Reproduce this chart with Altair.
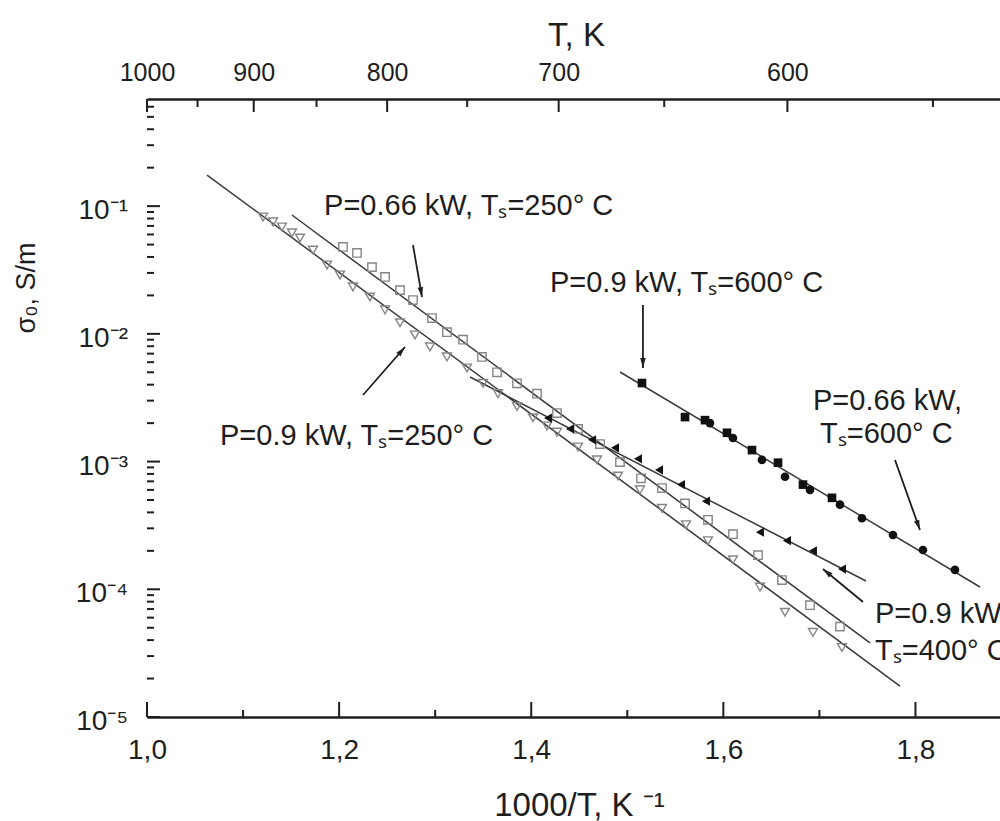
import math
import altair as alt
import pandas as pd

# ---------------- values ----------------
# P=0.9 kW, Ts=250 C  (open triangles)
tri_x = [1.1208, 1.1312, 1.1405, 1.1509, 1.1593, 1.1728, 1.1874, 1.2009, 1.2144, 1.2321,
         1.2478, 1.2634, 1.279, 1.2946, 1.3123, 1.3331, 1.3498, 1.3654, 1.3852, 1.4018,
         1.4164, 1.4268, 1.4487, 1.4685, 1.4903, 1.5132, 1.5361, 1.5611, 1.584, 1.61,
         1.6381, 1.6642, 1.6933, 1.7235]
tri_y = [0.0822, 0.0752, 0.0687, 0.0617, 0.0562, 0.0453, 0.0346, 0.0289, 0.0233, 0.0194,
         0.0154, 0.0122, 0.0098, 0.0079, 0.0066, 0.0054, 0.0041, 0.0034, 0.0027, 0.0022,
         0.0019, 0.0017, 0.0013, 0.00103, 0.00077, 0.0006, 0.00043, 0.00032, 0.00024, 0.00017,
         0.000104, 6.6e-5, 4.6e-5, 3.5e-5]

# P=0.66 kW, Ts=250 C  (open squares)
sq_x = [1.204, 1.2186, 1.2342, 1.2478, 1.2634, 1.2769, 1.2967, 1.3123, 1.329, 1.3487,
        1.3644, 1.3852, 1.406, 1.4268, 1.4487, 1.4716, 1.4924, 1.5143, 1.5361, 1.5601,
        1.584, 1.61, 1.6361, 1.661, 1.6902, 1.7214]
sq_y = [0.0479, 0.0430, 0.0333, 0.0279, 0.0220, 0.0184, 0.0133, 0.0103, 0.0090, 0.0066,
        0.0050, 0.0041, 0.0034, 0.0024, 0.0018, 0.00137, 0.00099, 0.00074, 0.00062, 0.00047,
        0.00035, 0.00027, 0.000185, 0.000118, 7.5e-5, 5.1e-5]

# P=0.9 kW, Ts=400 C  (filled triangles)
ftri_x = [1.4174, 1.4403, 1.4633, 1.4872, 1.5111, 1.533, 1.5559, 1.5819, 1.6381, 1.6662,
          1.6933, 1.7235]
ftri_y = [0.00219, 0.00180, 0.00148, 0.00128, 0.00105, 0.00086, 0.00066, 0.00049, 0.00028,
          0.00024, 0.00020, 0.000144]

# P=0.9 kW, Ts=600 C  (filled squares)
fsq_x = [1.5153, 1.5601, 1.5809, 1.6038, 1.6298, 1.6569, 1.6829, 1.7131]
fsq_y = [0.00412, 0.00223, 0.00211, 0.00168, 0.00123, 0.00098, 0.00066, 0.00052]

# P=0.66 kW, Ts=600 C  (filled circles)
fci_x = [1.5861, 1.61, 1.6402, 1.6642, 1.6902, 1.7214, 1.7443, 1.7766, 1.8078, 1.8411]
fci_y = [0.0020, 0.00153, 0.00103, 0.00076, 0.0006, 0.00046, 0.00036, 0.000266, 0.000203,
         0.000142]

# fitted straight lines (two end points each)
fit_id = ["a", "a", "b", "b", "c", "c", "d", "d"]
fit_x = [1.0625, 1.7839, 1.1509, 1.7527, 1.3363, 1.7485, 1.4924, 1.8672]
fit_y = [0.1752, 1.748e-5, 0.0852, 3.80e-5, 0.004594, 1.161e-4, 0.005027, 1.042e-4]

# annotation texts (left end of the baseline)
note_text = ["P=0.66 kW, Tₛ=250° C", "P=0.9 kW, Tₛ=250° C", "P=0.9 kW, Tₛ=600° C",
             "P=0.66 kW,", "Tₛ=600° C", "P=0.9 kW", "Tₛ=400° C"]
note_x = [1.1843, 1.076, 1.4195, 1.6933, 1.7006, 1.7579, 1.7579]
note_y = [0.0852, 0.001348, 0.02127, 0.002533, 0.001398, 5.45e-5, 2.795e-5]

# arrows: start -> tip
arrow_x0 = [1.2769, 1.2249, 1.5163, 1.7787, 1.7454]
arrow_y0 = [0.0496, 0.00332, 0.01681, 0.001028, 7.95e-5]
arrow_x1 = [1.2863, 1.2686, 1.5163, 1.8047, 1.7037]
arrow_y1 = [0.01943, 0.00789, 0.005402, 0.000291, 0.000144]

# axis ticks
x_major = [1.0, 1.2, 1.4, 1.6, 1.8]
x_minor = [1.1, 1.3, 1.5, 1.7]
t_major = [1000, 900, 800, 700, 600]
t_minor = [950, 850, 750, 650, 550]
y_major = [1e-5, 1e-4, 1e-3, 1e-2, 1e-1]
y_major_labels = ["10⁻⁵", "10⁻⁴", "10⁻³", "10⁻²", "10⁻¹"]

# ---------------- layout / style ----------------
W, H = 853, 618
X_DOMAIN = [1.0, 1.888]
Y_DOMAIN = [1e-5, 0.69]
FONT = "Liberation Sans"
INK = "#1e1e1e"
LINE = "#3a3a3a"
OPEN = "#858585"

y_minor = [m * d for d in y_major for m in range(2, 10) if m * d < Y_DOMAIN[1]]

xs = alt.Scale(domain=X_DOMAIN, nice=False, zero=False)
ys = alt.Scale(type="log", domain=Y_DOMAIN, nice=False)


def to_px(v, s):
    x = (v - X_DOMAIN[0]) / (X_DOMAIN[1] - X_DOMAIN[0]) * W
    ly0, ly1 = math.log10(Y_DOMAIN[0]), math.log10(Y_DOMAIN[1])
    y = H - (math.log10(s) - ly0) / (ly1 - ly0) * H
    return x, y


bottom_axis = alt.Axis(
    orient="bottom", values=x_major,
    labelExpr="replace(format(datum.value, '.1f'), '.', ',')",
    ticks=False, tickSize=0, grid=False, labelFlush=False, labelOverlap=False,
    labelFont=FONT, labelFontSize=28, labelColor=INK, labelPadding=41,
    labelBaseline="alphabetic", labelAlign="center",
    domainColor=INK, domainWidth=2.5, zindex=2,
    title="1000/T, K ⁻¹", titleFont=FONT, titleFontSize=33, titleFontWeight="normal",
    titleColor=INK, titleX=432, titleY=98, titleAlign="center", titleBaseline="alphabetic",
)

left_axis = alt.Axis(
    orient="left", values=y_major,
    ticks=False, tickSize=0, grid=False, labels=False,
    domainColor=INK, domainWidth=2.5, zindex=2, title=None,
)

top_axis = alt.Axis(
    orient="top", values=[1000.0 / t for t in t_major],
    labelExpr="format(1000 / datum.value, '.0f')",
    ticks=False, tickSize=0, grid=False, labelFlush=False, labelOverlap=False,
    labelFont=FONT, labelFontSize=25, labelColor=INK, labelPadding=19,
    labelBaseline="alphabetic", labelAlign="center",
    domainColor=INK, domainWidth=2.5, zindex=2,
    title="T, K", titleFont=FONT, titleFontSize=33, titleFontWeight="normal",
    titleColor=INK, titleX=429, titleY=-54, titleAlign="center", titleBaseline="alphabetic",
)

X = lambda axis=None: alt.X("x:Q", scale=xs, axis=axis)
Y = lambda axis=None: alt.Y("y:Q", scale=ys, axis=axis)

fits = pd.DataFrame({"x": fit_x, "y": fit_y, "k": fit_id})
lines = alt.Chart(fits).mark_line(color=LINE, strokeWidth=1.5).encode(
    x=X(bottom_axis), y=Y(left_axis), detail="k:N"
)


def points(xv, yv, **mk):
    return alt.Chart(pd.DataFrame({"x": xv, "y": yv})).mark_point(opacity=1, **mk).encode(
        x=X(), y=Y()
    )


p_tri = points(tri_x, tri_y, shape="triangle-down", size=80, filled=False,
               color=OPEN, strokeWidth=1.4)
p_sq = points(sq_x, sq_y, shape="square", size=70, filled=False,
              color=OPEN, strokeWidth=1.4)
p_ftri = points(ftri_x, ftri_y, shape="triangle-left", size=85, filled=True, color="#111")
p_fsq = points(fsq_x, fsq_y, shape="square", size=75, filled=True, color="#111")
p_fci = points(fci_x, fci_y, shape="circle", size=75, filled=True, color="#111")

# arrows
arr_rows = []
head_rows = []
for i in range(len(arrow_x0)):
    arr_rows.append({"x": arrow_x0[i], "y": arrow_y0[i], "k": i, "o": 0})
    arr_rows.append({"x": arrow_x1[i], "y": arrow_y1[i], "k": i, "o": 1})
    x0, y0 = to_px(arrow_x0[i], arrow_y0[i])
    x1, y1 = to_px(arrow_x1[i], arrow_y1[i])
    ang = math.degrees(math.atan2(x1 - x0, -(y1 - y0))) % 360
    head_rows.append({"x": arrow_x1[i], "y": arrow_y1[i], "a": ang})

arrows = alt.Chart(pd.DataFrame(arr_rows)).mark_line(color=INK, strokeWidth=1.8).encode(
    x=X(), y=Y(), detail="k:N", order="o:Q"
)
heads = alt.Chart(pd.DataFrame(head_rows)).mark_point(
    shape="M0,0L0.55,2L-0.55,2Z", filled=True, size=100, color=INK, opacity=1
).encode(x=X(), y=Y(), angle=alt.Angle("a:Q", scale=None))

notes = alt.Chart(pd.DataFrame({"x": note_x, "y": note_y, "t": note_text})).mark_text(
    align="left", baseline="alphabetic", font=FONT, fontSize=29, color=INK
).encode(x=X(), y=Y(), text="t:N")

# y tick labels and y title, placed on the y scale left of the frame
ylabels = alt.Chart(pd.DataFrame({"y": y_major, "t": y_major_labels})).mark_text(
    align="right", baseline="alphabetic", font=FONT, fontSize=28, color=INK, dx=-19, dy=13
).encode(x=alt.value(0), y=Y(), text="t:N")

ytitle = alt.Chart(pd.DataFrame({"t": ["σ₀, S/m"]})).mark_text(
    align="center", baseline="alphabetic", font=FONT, fontSize=27, color=INK, angle=270
).encode(x=alt.value(-112), y=alt.value(189), text="t:N")

# inward axis ticks
TW = 2


def xticks(vals, length, at_top, axis=None):
    yv = length / 2 if at_top else H - length / 2
    return alt.Chart(pd.DataFrame({"x": vals})).mark_tick(
        orient="vertical", size=length, thickness=TW, color=INK, opacity=1
    ).encode(x=X(axis), y=alt.value(yv))


def yticks(vals, length):
    return alt.Chart(pd.DataFrame({"y": vals})).mark_tick(
        orient="horizontal", size=length, thickness=TW, color=INK, opacity=1
    ).encode(y=Y(), x=alt.value(length / 2))


tk_b_major = xticks(x_major, 15, False)
tk_b_minor = xticks(x_minor, 7, False)
tk_t_major = xticks([1000.0 / t for t in t_major], 13, True, top_axis)
tk_t_minor = xticks([1000.0 / t for t in t_minor], 8, True)
tk_l_major = yticks(y_major, 13)
tk_l_minor = yticks(y_minor, 7)

chart = alt.layer(
    lines, p_tri, p_sq, p_ftri, p_fsq, p_fci, arrows, heads, notes, ylabels, ytitle,
    tk_b_major, tk_b_minor, tk_t_major, tk_t_minor, tk_l_major, tk_l_minor,
).resolve_axis(x="independent").properties(
    width=W, height=H,
    autosize=alt.AutoSizeParams(type="none"),
    padding={"left": 147, "top": 99, "right": 0, "bottom": 104},
    background="white",
).configure_view(stroke=None)

chart.save("out.html", embed_options={"renderer": "svg", "actions": False})
